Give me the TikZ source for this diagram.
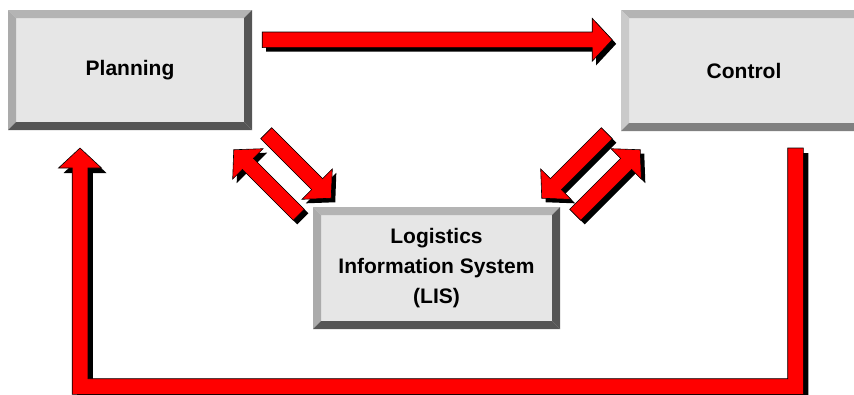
\documentclass[tikz,border=0pt]{standalone}
\usepackage{fontspec}
\setmainfont{Liberation Sans}
\usetikzlibrary{calc}

\definecolor{boxface}{HTML}{E6E6E6}
\definecolor{bevtop}{HTML}{B4B4B4}
\definecolor{bevleft}{HTML}{ABABAB}
\definecolor{bevdark}{HTML}{555555}
\definecolor{bevpale}{HTML}{CACACA}
\definecolor{bevmid}{HTML}{808080}
\definecolor{arrowred}{HTML}{FF0000}

\newcommand{\boxfont}{\fontsize{21}{30}\selectfont\bfseries}
\def\bevel{8pt}
\def\shaft{7.8}
\def\headwidth{21.5}
\def\headlen{20}
\def\shadowoff{4}

\tikzset{
  bevel colors/.code args={#1/#2/#3/#4}{\def\bevT{#1}\def\bevL{#2}\def\bevB{#3}\def\bevR{#4}},
  bevelbox/.style={fill=boxface, inner sep=0pt, align=center, font=\boxfont,
    bevel colors=bevtop/bevleft/bevdark/bevdark,
    path picture={
      \coordinate (a) at (path picture bounding box.north west);
      \coordinate (b) at (path picture bounding box.north east);
      \coordinate (c) at (path picture bounding box.south east);
      \coordinate (d) at (path picture bounding box.south west);
      \fill[\bevT] (a) -- (b) -- ([shift={(-\bevel,-\bevel)}]b) -- ([shift={(\bevel,-\bevel)}]a) -- cycle;
      \fill[\bevL] (a) -- ([shift={(\bevel,-\bevel)}]a) -- ([shift={(\bevel,\bevel)}]d) -- (d) -- cycle;
      \fill[\bevB] (d) -- ([shift={(\bevel,\bevel)}]d) -- ([shift={(-\bevel,\bevel)}]c) -- (c) -- cycle;
      \fill[\bevR] (c) -- ([shift={(-\bevel,\bevel)}]c) -- ([shift={(-\bevel,-\bevel)}]b) -- (b) -- cycle;
    }},
  arrowbody/.style={fill=arrowred, draw=black, line width=0.6pt, line join=miter},
  arrowshadow/.style={fill=black},
}

% fat arrow: start (back end), angle, length to tip
\newcommand{\fatarrow}[3]{%
  \fill[arrowshadow,shift={#1},shift={(\shadowoff,\shadowoff)},rotate=#2]
    (0,-\shaft) -- (#3-\headlen,-\shaft) -- (#3-\headlen,-\headwidth) -- (#3,0)
    -- (#3-\headlen,\headwidth) -- (#3-\headlen,\shaft) -- (0,\shaft) -- cycle;
  \filldraw[arrowbody,shift={#1},rotate=#2]
    (0,-\shaft) -- (#3-\headlen,-\shaft) -- (#3-\headlen,-\headwidth) -- (#3,0)
    -- (#3-\headlen,\headwidth) -- (#3-\headlen,\shaft) -- (0,\shaft) -- cycle;
}

\def\loopL{80}
\def\loopR{795.5}
\def\loopy{386.5}
\def\looptop{148}
\newcommand{\loopshape}{(\loopR-\shaft,\looptop) -- (\loopR+\shaft,\looptop)
  -- (\loopR+\shaft,\loopy+\shaft) -- (\loopL-\shaft,\loopy+\shaft)
  -- (\loopL-\shaft,\looptop+\headlen) -- (\loopL-\headwidth,\looptop+\headlen)
  -- (\loopL,\looptop) -- (\loopL+\headwidth,\looptop+\headlen)
  -- (\loopL+\shaft,\looptop+\headlen) -- (\loopL+\shaft,\loopy-\shaft)
  -- (\loopR-\shaft,\loopy-\shaft) -- cycle}

\begin{document}
\begin{tikzpicture}[x=1pt,y=-1pt]
  \useasboundingbox (0,0) rectangle (854,394);
  % boxes
  \node[bevelbox, minimum width=244pt, minimum height=120pt] (plan) at (130,70) {Planning};
  \node[bevelbox, bevel colors=bevtop/bevpale/bevmid/bevmid,
        minimum width=246pt, minimum height=121pt] (ctrl) at (744,70.5) {Control};
  \node[bevelbox, minimum width=247pt, minimum height=122pt] (lis) at (436.5,268)
    {Logistics\\Information System\\(LIS)};
  % planning to control
  \coordinate (pl2ct) at ($(plan.north east)+(10,30)$);
  \fatarrow{(pl2ct)}{0}{350}
  % arrows to and from the LIS
  \coordinate (pl2lis) at ($(plan.south east)+(14,3)$);
  \coordinate (lis2pl) at ($(lis.north west)+(-14,8)$);
  \coordinate (ct2lis) at ($(ctrl.south west)+(-14,2)$);
  \coordinate (lis2ct) at ($(lis.north east)+(15,8)$);
  \foreach \s/\a in {pl2lis/-45, lis2pl/135, ct2lis/-135, lis2ct/45} {
    \fatarrow{(\s)}{\a}{92}
  }
  % feedback loop from control back to planning
  \fill[arrowshadow,shift={(5,5)}] \loopshape;
  \filldraw[arrowbody] \loopshape;
\end{tikzpicture}
\end{document}
